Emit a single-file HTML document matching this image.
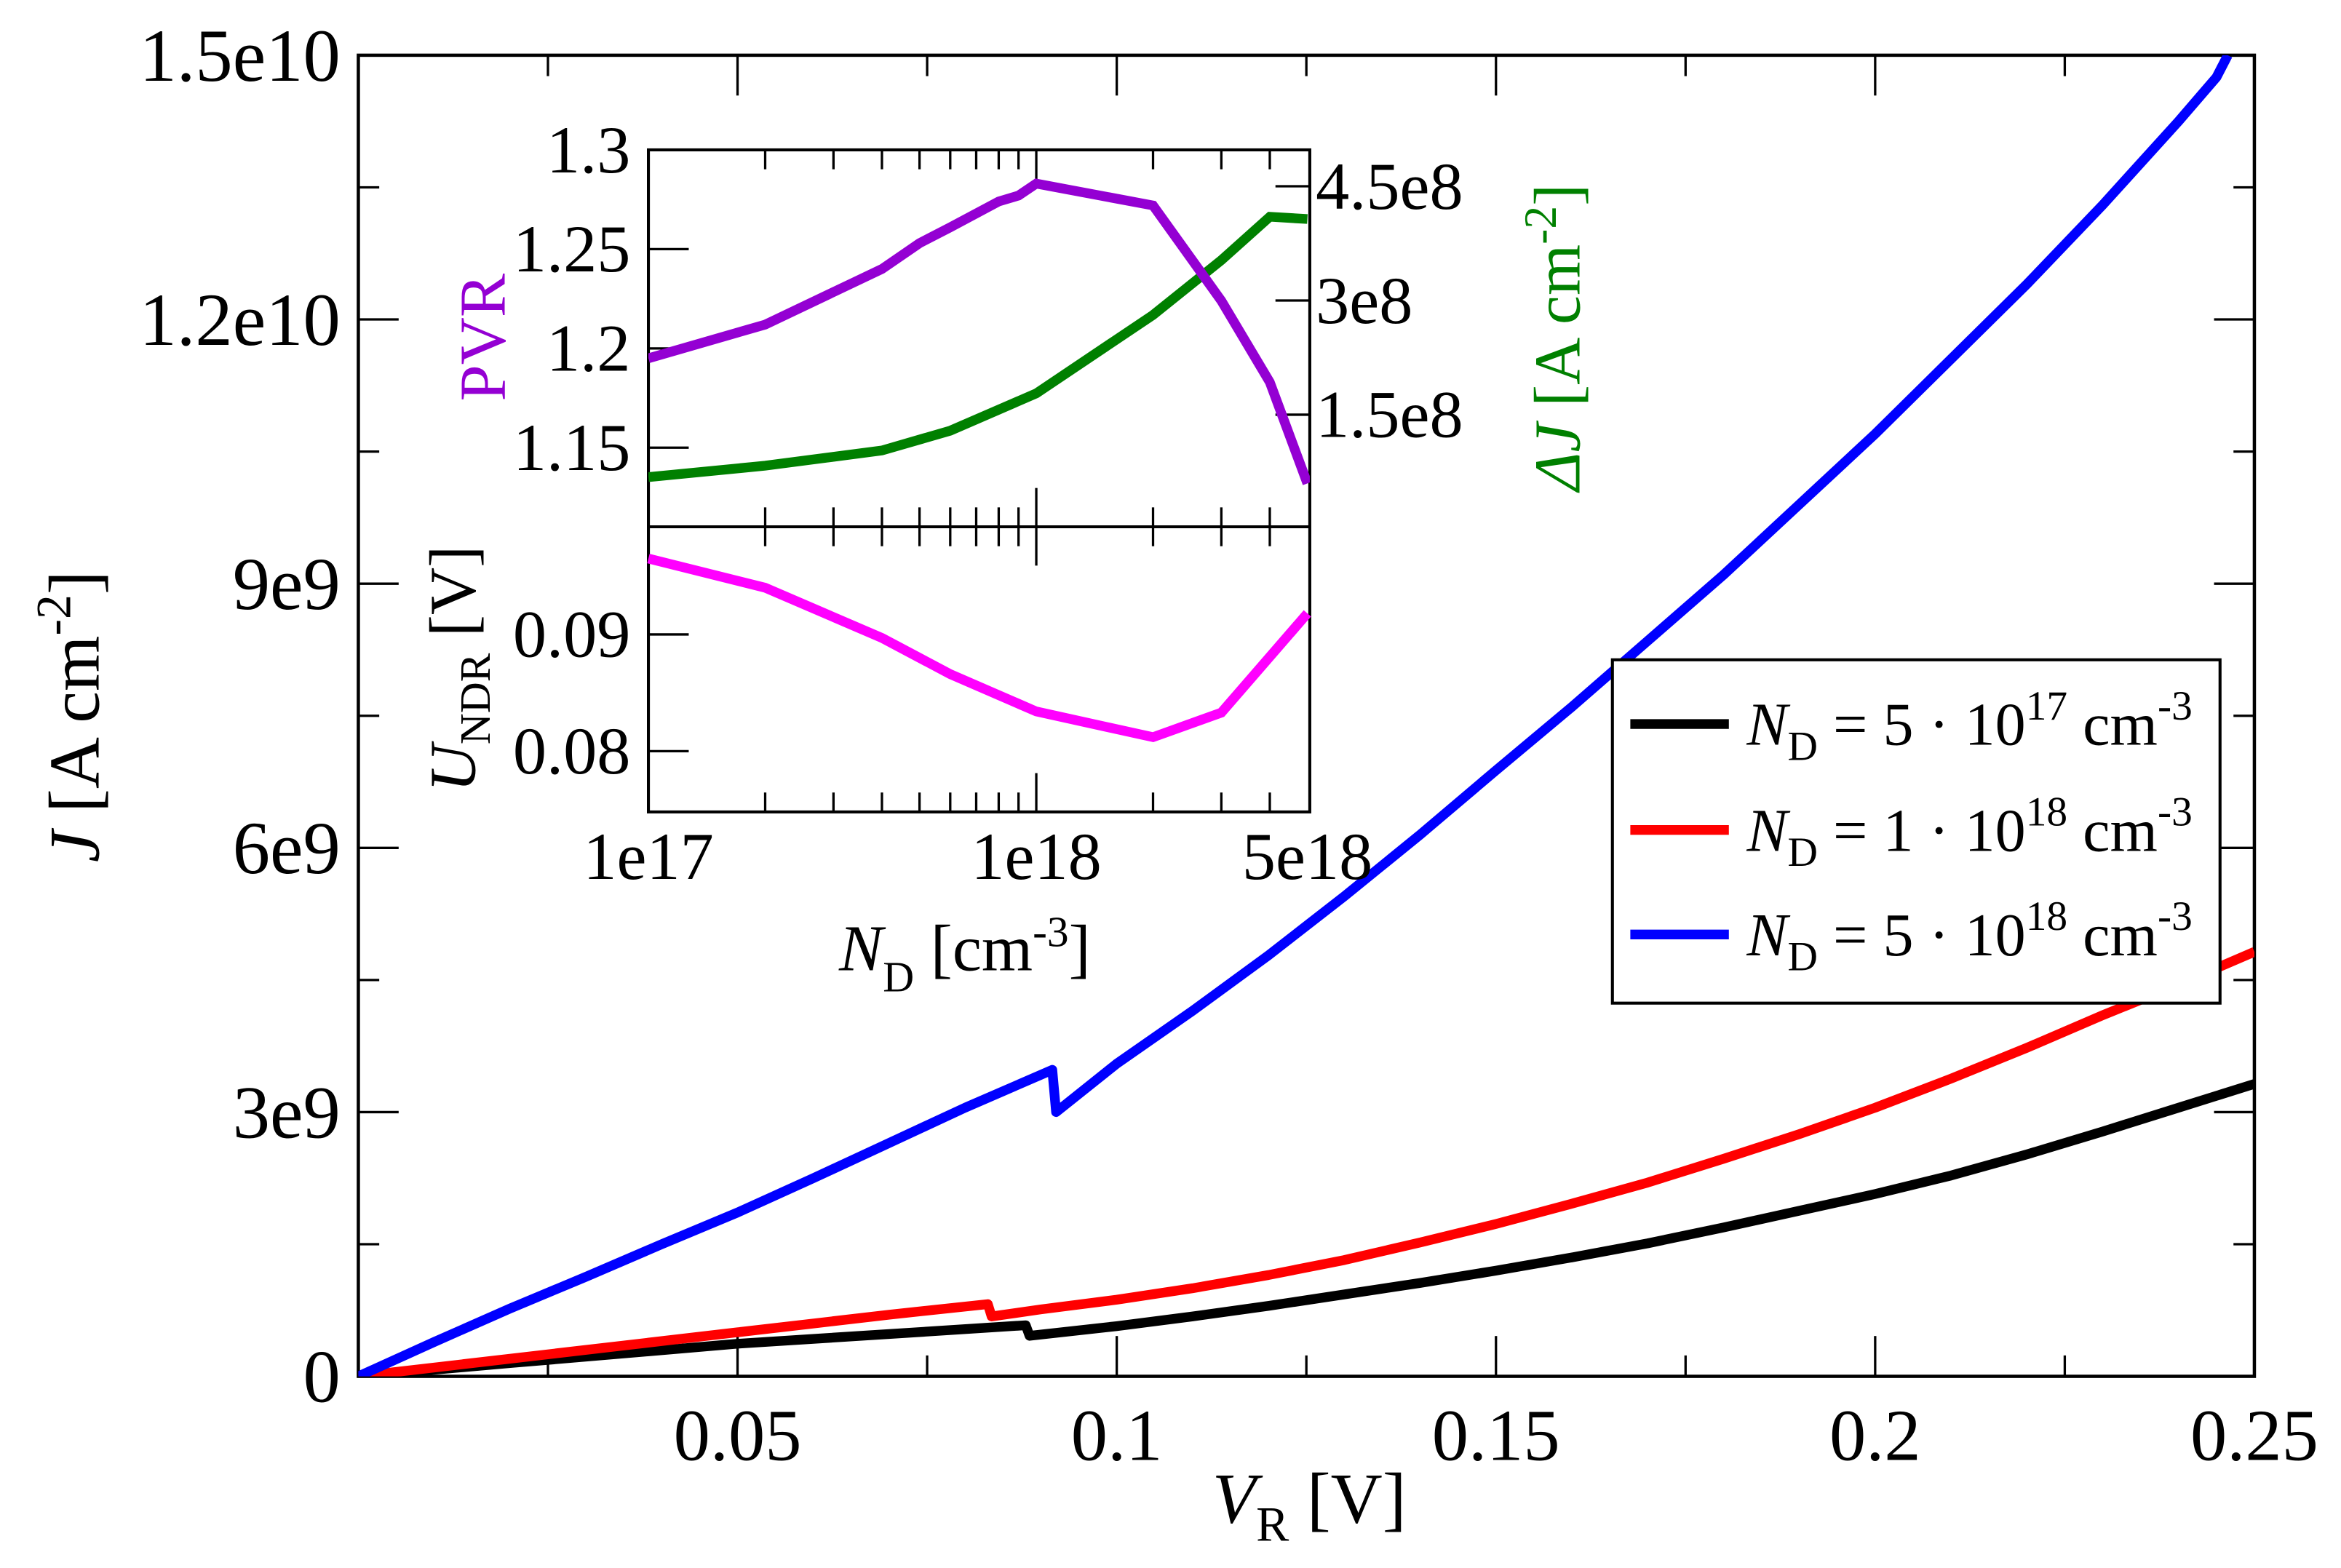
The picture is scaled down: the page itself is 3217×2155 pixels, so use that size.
<!DOCTYPE html>
<html><head><meta charset="utf-8"><style>
html,body{margin:0;padding:0;background:#fff;}
svg{display:block;font-family:"Liberation Serif",serif;}
</style></head><body>
<svg id="chart" width="3217" height="2155" viewBox="0 0 1568 1050.4" xmlns="http://www.w3.org/2000/svg">
<defs><clipPath id="mainclip"><rect x="240" y="37" width="1270" height="885"/></clipPath>
<clipPath id="upclip"><rect x="434.3" y="100.4" width="443" height="252.5"/></clipPath>
<clipPath id="loclip"><rect x="434.3" y="352.9" width="443" height="191"/></clipPath></defs>
<g id="main"></g>
<g id="inset"></g>
<g id="legend">
<rect x="1080" y="442" width="407" height="230" fill="#fff" stroke="#000" stroke-width="2"/>
<line x1="1092" y1="485" x2="1158" y2="485" stroke="#000" stroke-width="6.5"/>
<line x1="1092" y1="556" x2="1158" y2="556" stroke="#f00" stroke-width="6.5"/>
<line x1="1092" y1="626" x2="1158" y2="626" stroke="#00f" stroke-width="6.5"/>
<text x="1170" y="499" font-size="41"><tspan font-style="italic">N</tspan><tspan font-size="28" dy="10">D</tspan><tspan dy="-10"> = 5 · 10</tspan><tspan font-size="28" dy="-17">17</tspan><tspan dy="17"> cm</tspan><tspan font-size="28" dy="-17">-3</tspan></text>
<text x="1170" y="570" font-size="41"><tspan font-style="italic">N</tspan><tspan font-size="28" dy="10">D</tspan><tspan dy="-10"> = 1 · 10</tspan><tspan font-size="28" dy="-17">18</tspan><tspan dy="17"> cm</tspan><tspan font-size="28" dy="-17">-3</tspan></text>
<text x="1170" y="640" font-size="41"><tspan font-style="italic">N</tspan><tspan font-size="28" dy="10">D</tspan><tspan dy="-10"> = 5 · 10</tspan><tspan font-size="28" dy="-17">18</tspan><tspan dy="17"> cm</tspan><tspan font-size="28" dy="-17">-3</tspan></text>
</g>
<text transform="translate(66,480) rotate(-90)" text-anchor="middle" font-size="48"><tspan font-style="italic">J</tspan> [A cm<tspan font-size="33" dy="-19">-2</tspan><tspan dy="19">]</tspan></text>
<text x="812" y="1020" font-size="48"><tspan font-style="italic">V</tspan><tspan font-size="33" dy="12">R</tspan><tspan dy="-12"> [V]</tspan></text>
<text transform="translate(338,226) rotate(-90)" text-anchor="middle" font-size="44" fill="#9400d3">PVR</text>
<text transform="translate(1058,226) rotate(-90)" text-anchor="middle" font-size="44" fill="#008000"><tspan font-style="italic">ΔJ</tspan> [A cm<tspan font-size="31" dy="-16">-2</tspan><tspan dy="16">]</tspan></text>
<text transform="translate(318,448) rotate(-90)" text-anchor="middle" font-size="44"><tspan font-style="italic">U</tspan><tspan font-size="29" dy="10">NDR</tspan><tspan dy="-10"> [V]</tspan></text>
<text x="562" y="650" font-size="44"><tspan font-style="italic">N</tspan><tspan font-size="29" dy="14">D</tspan><tspan dy="-14"> [cm</tspan><tspan font-size="29" dy="-16">-3</tspan><tspan dy="16">]</tspan></text>
</svg>
<script>
const NS="http://www.w3.org/2000/svg";
// main chart data
const xTicks=[0.05,0.1,0.15,0.2,0.25];
const xTickLabels=["0.05","0.1","0.15","0.2","0.25"];
const yTicks=[0,3e9,6e9,9e9,1.2e10,1.5e10];
const yTickLabels=["0","3e9","6e9","9e9","1.2e10","1.5e10"];
const blueV=[0,0.01,0.02,0.03,0.04,0.05,0.06,0.07,0.08,0.0915,0.092,0.1,0.11,0.12,0.13,0.14,0.15,0.16,0.17,0.18,0.19,0.2,0.21,0.22,0.23,0.24,0.245,0.2465];
const blueJ=[0,0.39e9,0.77e9,1.13e9,1.5e9,1.86e9,2.25e9,2.65e9,3.05e9,3.48e9,3.0e9,3.55e9,4.15e9,4.78e9,5.45e9,6.15e9,6.88e9,7.6e9,8.35e9,9.1e9,9.9e9,10.7e9,11.55e9,12.4e9,13.3e9,14.25e9,14.75e9,15e9];
const redV=[0,0.01,0.02,0.03,0.04,0.05,0.06,0.07,0.083,0.0835,0.09,0.1,0.11,0.12,0.13,0.14,0.15,0.16,0.17,0.18,0.19,0.2,0.21,0.22,0.23,0.24,0.25];
const redJ=[0,0.1e9,0.2e9,0.3e9,0.4e9,0.5e9,0.6e9,0.7e9,0.82e9,0.68e9,0.76e9,0.87e9,1.0e9,1.15e9,1.32e9,1.52e9,1.73e9,1.96e9,2.2e9,2.47e9,2.75e9,3.05e9,3.38e9,3.73e9,4.1e9,4.45e9,4.82e9];
const blackV=[0,0.02,0.05,0.088,0.0885,0.1,0.11,0.12,0.13,0.14,0.15,0.16,0.17,0.18,0.19,0.2,0.21,0.22,0.23,0.24,0.25];
const blackJ=[0,0.15e9,0.37e9,0.58e9,0.46e9,0.57e9,0.68e9,0.8e9,0.93e9,1.06e9,1.2e9,1.35e9,1.51e9,1.69e9,1.88e9,2.07e9,2.28e9,2.52e9,2.78e9,3.05e9,3.32e9];
// inset data
const insetXTicks=[1e17,1e18,5e18];
const insetXTickLabels=["1e17","1e18","5e18"];
const pvrTicks=[1.15,1.2,1.25,1.3];
const pvrTickLabels=["1.15","1.2","1.25","1.3"];
const djTicks=[1.5e8,3e8,4.5e8];
const djTickLabels=["1.5e8","3e8","4.5e8"];
const uTicks=[0.08,0.09];
const uTickLabels=["0.08","0.09"];
const pvrN=[1e17,2e17,4e17,5e17,6e17,8e17,9e17,1e18,2e18,3e18,4e18,5e18];
const pvrVal=[1.195,1.212,1.240,1.253,1.261,1.274,1.277,1.283,1.272,1.224,1.183,1.132];
const djN=[1e17,2e17,4e17,6e17,1e18,2e18,3e18,4e18,5e18];
const djVal=[0.68e8,0.83e8,1.03e8,1.29e8,1.78e8,2.81e8,3.53e8,4.10e8,4.07e8];
const uN=[1e17,2e17,4e17,6e17,1e18,2e18,3e18,5e18];
const uVal=[0.0965,0.0940,0.0897,0.0866,0.0834,0.0812,0.0833,0.0918];

const L=240,R=1510,T=37,B=922;
const sx=v=>L+(v/0.25)*(R-L);
const sy=j=>B-(j/1.5e10)*(B-T);
const IL=434.3,IR=877.3,IT=100.4,IM=352.9,IB=543.9;
const lx=n=>IL+(Math.log10(n)-17)*259.8;
const pvrY=p=>100.4+(1.3-p)/0.05*66.5;
const djY=d=>354.3-d/1.5e8*76.5;
const uY=u=>425+(0.09-u)/0.01*78.2;

function el(tag,attrs,parent){const e=document.createElementNS(NS,tag);for(const k in attrs)e.setAttribute(k,attrs[k]);parent.appendChild(e);return e;}
const main=document.getElementById('main');
const inset=document.getElementById('inset');

let fr=el('rect',{x:L,y:T,width:R-L,height:B-T,fill:'none',stroke:'#000','stroke-width':2.2},main);


for(let i=1;i<=10;i++){const v=i*0.025;const x=sx(v);const len=(i%2===0)?27:14;
 let t=el('line',{x1:x,y1:B,x2:x,y2:B-len,stroke:'#000','stroke-width':1.6},main);
 
 let t2=el('line',{x1:x,y1:T,x2:x,y2:T+len,stroke:'#000','stroke-width':1.6},main);
 }
xTicks.forEach((v,i)=>{let t=el('text',{x:sx(v),y:B+56,'text-anchor':'middle','font-size':49},main);t.textContent=xTickLabels[i];
 });
for(let i=1;i<=9;i++){const j=i*1.5e9;const y=sy(j);const len=(i%2===0)?27:14;
 let t=el('line',{x1:L,y1:y,x2:L+len,y2:y,stroke:'#000','stroke-width':1.6},main);
 
 let t2=el('line',{x1:R,y1:y,x2:R-len,y2:y,stroke:'#000','stroke-width':1.6},main);
 }
yTicks.forEach((v,i)=>{let t=el('text',{x:228,y:sy(v)+17,'text-anchor':'end','font-size':50},main);t.textContent=yTickLabels[i];
 });

function path(xs,ys,fx,fy){return xs.map((x,i)=>(i?'L':'M')+fx(x).toFixed(2)+','+fy(ys[i]).toFixed(2)).join('');}
const series=[['black',blackV,blackJ,'#000','series-5e17'],['red',redV,redJ,'#f00','series-1e18'],['blue',blueV,blueJ,'#00f','series-5e18']];
series.forEach(s=>{let p=el('path',{d:path(s[1],s[2],sx,sy),fill:'none',stroke:s[3],'stroke-width':6.5,'stroke-linejoin':'round','clip-path':'url(#mainclip)'},main);
 });

let bg=el('rect',{x:IL,y:IT,width:IR-IL,height:IB-IT,fill:'#fff',stroke:'#000','stroke-width':2},inset);

let dv=el('line',{x1:IL,y1:IM,x2:IR,y2:IM,stroke:'#000','stroke-width':2},inset);

const minors=[2e17,3e17,4e17,5e17,6e17,7e17,8e17,9e17,2e18,3e18,4e18];
minors.concat([1e18]).forEach(n=>{const x=lx(n);const len=n===1e18?26:13;
 [[IT,1],[IM,-1],[IM,1],[IB,-1]].forEach(([y0,d])=>{let t=el('line',{x1:x,y1:y0,x2:x,y2:y0+d*len,stroke:'#000','stroke-width':1.6},inset);
 });});
insetXTicks.forEach((n,i)=>{let t=el('text',{x:lx(n),y:IB+45,'text-anchor':'middle','font-size':45},inset);t.textContent=insetXTickLabels[i];
 });
pvrTicks.forEach((v,i)=>{const y=pvrY(v);
 if(i<3){let t=el('line',{x1:IL,y1:y,x2:IL+27,y2:y,stroke:'#000','stroke-width':1.6},inset);}
 let l=el('text',{x:IL-12,y:y+15,'text-anchor':'end','font-size':45},inset);l.textContent=pvrTickLabels[i];
 });
djTicks.forEach((v,i)=>{const y=djY(v);
 let t=el('line',{x1:IR,y1:y,x2:IR-23,y2:y,stroke:'#000','stroke-width':1.6},inset);
 let l=el('text',{x:IR+4,y:y+15,'font-size':45},inset);l.textContent=djTickLabels[i];
 });
uTicks.forEach((v,i)=>{const y=uY(v);
 let t=el('line',{x1:IL,y1:y,x2:IL+27,y2:y,stroke:'#000','stroke-width':1.6},inset);
 let l=el('text',{x:IL-12,y:y+15,'text-anchor':'end','font-size':45},inset);l.textContent=uTickLabels[i];
 });
let pg=el('path',{d:path(djN,djVal,lx,djY),fill:'none',stroke:'#008000','stroke-width':6.5,'clip-path':'url(#upclip)'},inset);

let pp=el('path',{d:path(pvrN,pvrVal,lx,pvrY),fill:'none',stroke:'#9400d3','stroke-width':6.5,'clip-path':'url(#upclip)'},inset);

let pu=el('path',{d:path(uN,uVal,lx,uY),fill:'none',stroke:'#ff00ff','stroke-width':6.5},inset);

</script>
</body></html>
